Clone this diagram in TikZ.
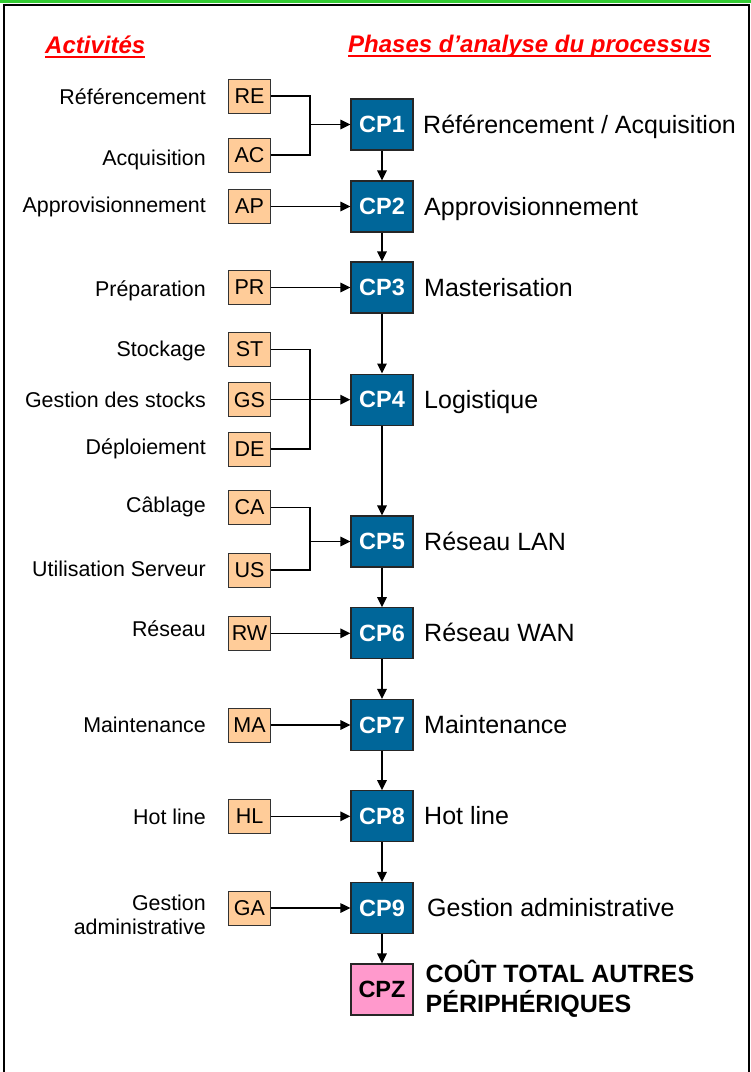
\documentclass[tikz,border=0pt]{standalone}
\usepackage{fontspec}
\setmainfont{Liberation Sans}
\usetikzlibrary{arrows.meta}

\definecolor{cpblue}{RGB}{0,102,153}
\definecolor{actpeach}{RGB}{255,204,153}
\definecolor{cppink}{RGB}{255,153,204}
\definecolor{bandgreen}{RGB}{51,204,51}

\tikzset{
    actbox/.style={draw=black!80, fill=actpeach, line width=1pt, minimum width=42pt, minimum height=34pt, inner sep=0pt, font=\fontsize{21.5}{24}\selectfont},
    cpbox/.style={draw=black!85, fill=cpblue, line width=1.3pt, minimum width=62pt, minimum height=51pt, inner sep=0pt, text=white, font=\bfseries\fontsize{23.5}{26}\selectfont},
    actlabel/.style={anchor=east, inner sep=0pt, text height=14.8pt, text depth=0pt, font=\fontsize{21.4}{24}\selectfont},
    phlabel/.style={anchor=west, inner sep=0pt, text height=17.2pt, text depth=0pt, font=\fontsize{25}{30}\selectfont},
    header/.style={anchor=base west, inner sep=0pt, text=red, font=\bfseries\itshape\fontsize{24}{28}\selectfont},
    feed/.style={line width=1.2pt},
    arr/.style={line width=1.5pt, -{Triangle[length=10pt,width=9.5pt]}},
}

\begin{document}
\begin{tikzpicture}[x=1pt, y=-1pt]
    \useasboundingbox (0,0) rectangle (751,1072);

    % cadre
    \fill[bandgreen] (0,0) rectangle (751,3.4);
    \draw[line width=2pt] (3.7,1072) -- (3.7,4.5) -- (748.8,4.5) -- (748.8,1072);

    % titres
    \node[header] (hact) at (45,53) {Activités};
    \node[header] (hph) at (348,52) {Phases d’analyse du processus};
    \draw[red, line width=2.2pt] ([yshift=-4pt]hact.base west) -- ([yshift=-4pt]hact.base east);
    \draw[red, line width=2.2pt] ([yshift=-4pt]hph.base west) -- ([yshift=-4pt]hph.base east);

    % activites
    \node[actbox] (re) at (249.5,96) {RE};
    \node[actbox] (ac) at (249.5,155) {AC};
    \node[actbox] (ap) at (249.5,206.5) {AP};
    \node[actbox] (pr) at (249.5,287.5) {PR};
    \node[actbox] (st) at (249.5,349.5) {ST};
    \node[actbox] (gs) at (249.5,399.7) {GS};
    \node[actbox] (de) at (249.5,449) {DE};
    \node[actbox] (ca) at (249.5,507.5) {CA};
    \node[actbox] (us) at (249.5,570) {US};
    \node[actbox] (rw) at (249.5,633.3) {RW};
    \node[actbox] (ma) at (249.5,725) {MA};
    \node[actbox] (hl) at (249.5,816.3) {HL};
    \node[actbox] (ga) at (249.5,908) {GA};

    \node[actlabel] (lre) at (206,96.7) {Référencement};
    \node[actlabel] (lac) at (206,158) {Acquisition};
    \node[actlabel] (lap) at (206,205) {Approvisionnement};
    \node[actlabel] (lpr) at (206,289) {Préparation};
    \node[actlabel] (lst) at (206,349) {Stockage};
    \node[actlabel] (lgs) at (206,400) {Gestion des stocks};
    \node[actlabel] (lde) at (206,447) {Déploiement};
    \node[actlabel] (lca) at (206,505.5) {Câblage};
    \node[actlabel] (lus) at (206,569) {Utilisation Serveur};
    \node[actlabel] (lrw) at (206,629) {Réseau};
    \node[actlabel] (lma) at (206,725) {Maintenance};
    \node[actlabel] (lhl) at (206,817) {Hot line};
    \node[anchor=east, align=right, inner sep=0pt, font=\fontsize{21.4}{24.3}\selectfont] (lga) at (206,915) {Gestion\\administrative};

    % phases
    \node[cpbox] (cp1) at (382,124.5) {CP1};
    \node[cpbox] (cp2) at (382,206.5) {CP2};
    \node[cpbox] (cp3) at (382,287.5) {CP3};
    \node[cpbox] (cp4) at (382,399.7) {CP4};
    \node[cpbox] (cp5) at (382,541.5) {CP5};
    \node[cpbox] (cp6) at (382,633.3) {CP6};
    \node[cpbox] (cp7) at (382,725) {CP7};
    \node[cpbox] (cp8) at (382,816.3) {CP8};
    \node[cpbox] (cp9) at (382,908) {CP9};
    \node[cpbox, fill=cppink, text=black] (cpz) at (382,989.5) {CPZ};

    \node[phlabel] (pl1) at (423,124.5) {Référencement / Acquisition};
    \node[phlabel] (pl2) at (424,206.5) {Approvisionnement};
    \node[phlabel] (pl3) at (424,287.5) {Masterisation};
    \node[phlabel] (pl4) at (424,399.7) {Logistique};
    \node[phlabel] (pl5) at (424,541.5) {Réseau LAN};
    \node[phlabel] (pl6) at (424,633.3) {Réseau WAN};
    \node[phlabel] (pl7) at (424,725) {Maintenance};
    \node[phlabel] (pl8) at (424,816.3) {Hot line};
    \node[phlabel] (pl9) at (427,908) {Gestion administrative};
    \node[anchor=west, align=left, inner sep=0pt, font=\bfseries\fontsize{25}{30}\selectfont] (plz) at (425.5,989) {COÛT TOTAL AUTRES\\PÉRIPHÉRIQUES};

    % liaisons
    \coordinate (j1) at (310,124.5);
    \draw[feed] (re.east) -| (j1) |- (ac.east);
    \draw[arr] (j1) -- (cp1.west);
    \draw[arr] (ap) -- (cp2);
    \draw[arr] (pr) -- (cp3);
    \coordinate (j4) at (310,399.7);
    \draw[feed] (st.east) -| (j4) |- (de.east);
    \draw[arr] (gs) -- (cp4);
    \coordinate (j5) at (310,541.5);
    \draw[feed] (ca.east) -| (j5) |- (us.east);
    \draw[arr] (j5) -- (cp5.west);
    \draw[arr] (rw) -- (cp6);
    \draw[arr] (ma) -- (cp7);
    \draw[arr] (hl) -- (cp8);
    \draw[arr] (ga) -- (cp9);

    \draw[arr] (cp1) -- (cp2);
    \draw[arr] (cp2) -- (cp3);
    \draw[arr] (cp3) -- (cp4);
    \draw[arr] (cp4) -- (cp5);
    \draw[arr] (cp5) -- (cp6);
    \draw[arr] (cp6) -- (cp7);
    \draw[arr] (cp7) -- (cp8);
    \draw[arr] (cp8) -- (cp9);
    \draw[arr] (cp9) -- (cpz);
\end{tikzpicture}
\end{document}
